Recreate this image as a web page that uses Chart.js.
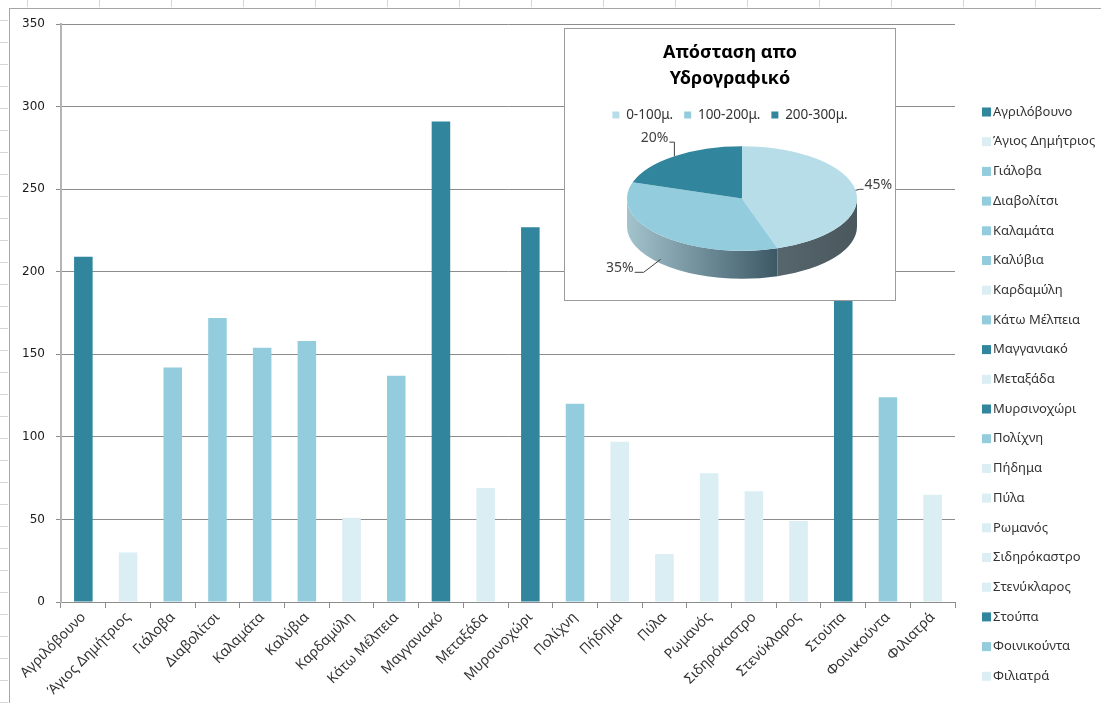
<!DOCTYPE html>
<html>
<head>
<meta charset="utf-8">
<script src="https://cdn.jsdelivr.net/npm/chart.js@4.4.1/dist/chart.umd.min.js"></script>
<style>
  html, body { margin: 0; padding: 0; background: #fff; }
  #wrap { position: relative; width: 1101px; height: 703px; overflow: hidden; background: #fff; }
  #topStrip { position: absolute; left: 0; top: 0; width: 1101px; height: 7px;
    background: repeating-linear-gradient(90deg, transparent 0 27px, #d6d6d6 27px 28px, transparent 28px 72px); }
  #leftStrip { position: absolute; left: 0; top: 0; width: 8px; height: 703px;
    background: repeating-linear-gradient(180deg, transparent 0 20px, #d6d6d6 20px 21px, transparent 21px 22px); }
  #frame { position: absolute; left: 9px; top: 8px; width: 1200px; height: 800px;
    border-left: 1px solid #a6a6a6; border-top: 1px solid #a6a6a6; }
  #bars { position: absolute; left: 0; top: 0; }
  #pieBox { position: absolute; left: 564px; top: 28px; width: 330px; height: 271px;
    background: #fff; border: 1px solid #9c9c9c; }
  #pie { display: block; }
</style>
</head>
<body>
<div id="wrap">
  <div id="topStrip"></div>
  <div id="leftStrip"></div>
  <div id="frame"></div>
  <canvas id="bars" width="1101" height="703"></canvas>
  <div id="pieBox"><canvas id="pie" width="330" height="271"></canvas></div>
</div>
<script>
// Villages and their distance from the hydrographic network (metres)
const categories = [
  'Αγριλόβουνο', 'Άγιος Δημήτριος', 'Γιάλοβα', 'Διαβολίτσι', 'Καλαμάτα',
  'Καλύβια', 'Καρδαμύλη', 'Κάτω Μέλπεια', 'Μαγγανιακό', 'Μεταξάδα',
  'Μυρσινοχώρι', 'Πολίχνη', 'Πήδημα', 'Πύλα', 'Ρωμανός',
  'Σιδηρόκαστρο', 'Στενύκλαρος', 'Στούπα', 'Φοινικούντα', 'Φιλιατρά'
];
const distances = [209, 30, 142, 172, 154, 158, 51, 137, 291, 69, 227, 120, 97, 29, 78, 67, 49, 250, 124, 65];
// distance band of each village: 0 = 0-100μ., 1 = 100-200μ., 2 = 200-300μ.
const distanceBand = [2, 0, 1, 1, 1, 1, 0, 1, 2, 0, 2, 1, 0, 0, 0, 0, 0, 2, 1, 0];
const yTicks = [0, 50, 100, 150, 200, 250, 300, 350];

// Share of villages per distance band (%)
const bandLabels = ['0-100μ.', '100-200μ.', '200-300μ.'];
const bandShares = [45, 35, 20];

const barColors = ['#DAEEF3', '#93CDDD', '#31859C'];
const pieColors = ['#B7DEE8', '#93CDDD', '#31859C'];

const FONT = 'Noto Sans';

// Vertical list of villages to the right of the plot
const villageLegend = {
  id: 'villageLegend',
  afterDraw(chart) {
    const ctx = chart.ctx;
    const ds = chart.data.datasets[0];
    const x0 = chart.chartArea.right + 27;
    const top = 112, step = 29.7;
    ctx.save();
    ctx.font = '13px "' + FONT + '"';
    ctx.textBaseline = 'middle';
    ctx.textAlign = 'left';
    chart.data.labels.forEach((label, i) => {
      const y = top + i * step;
      ctx.fillStyle = ds.backgroundColor[i];
      ctx.fillRect(x0, y - 4.5, 9, 9);
      ctx.fillStyle = '#333';
      ctx.fillText(label, x0 + 11, y);
    });
    ctx.restore();
  }
};

new Chart(document.getElementById('bars'), {
  type: 'bar',
  data: {
    labels: categories,
    datasets: [{
      data: distances,
      backgroundColor: distanceBand.map(b => barColors[b]),
      borderWidth: 0,
      barPercentage: 1,
      categoryPercentage: 0.415
    }]
  },
  options: {
    responsive: false,
    animation: false,
    devicePixelRatio: 1,
    layout: { padding: { left: 0, right: 146, top: 24, bottom: 0 } },
    plugins: { legend: { display: false }, tooltip: { enabled: false } },
    scales: {
      x: {
        grid: { drawOnChartArea: false, drawTicks: true, tickLength: 6, color: '#8c8c8c', offset: true },
        border: { color: '#8c8c8c', width: 1 },
        ticks: {
          autoSkip: false, minRotation: 45, maxRotation: 45, padding: 1,
          font: { family: FONT, size: 14 }, color: '#333'
        },
        afterFit(scale) { scale.height = 101; }
      },
      y: {
        min: 0, max: 350,
        afterBuildTicks(scale) { scale.ticks = yTicks.map(v => ({ value: v })); },
        ticks: { font: { family: 'DejaVu Sans', size: 12 }, color: '#1a1a1a', padding: 11 },
        grid: { color: '#8c8c8c', tickLength: 5, drawTicks: true },
        border: { color: '#b5b5b5', width: 2 },
        afterFit(scale) { scale.width = 61; }
      }
    }
  },
  plugins: [villageLegend]
});

// Tilted 3D look for the pie: side walls, flattened top face and leader-line labels
const PIE = { cx: 177, cy: 169.5, r: 115, tilt: 0.455, depth: 28 };
const labelLeaders = [
  { ex: 4, ey: -1, tail: 4 },
  { ex: -17, ey: 13, tail: -9 },
  { ex: 0, ey: -14, tail: -5 }
];
const sideShades = [
  ['#56666c', '#4a585e'],
  ['#a3c3cd', '#3c5865'],
  ['#2b6f82', '#25616f']
];

const tiltedPie = {
  id: 'tiltedPie',
  beforeDatasetsDraw(chart) {
    const ctx = chart.ctx;
    const meta = chart.getDatasetMeta(0);
    const { cx, cy, r, tilt, depth } = PIE;
    const ry = r * tilt;
    ctx.save();
    meta.data.forEach((arc, i) => {
      const lo = Math.max(arc.startAngle, 0);
      const hi = Math.min(arc.endAngle, Math.PI);
      if (hi <= lo) return;
      const xa = cx + r * Math.cos(hi), xb = cx + r * Math.cos(lo);
      const g = ctx.createLinearGradient(Math.min(xa, xb), 0, Math.max(xa, xb), 0);
      g.addColorStop(0, sideShades[i][0]);
      g.addColorStop(1, sideShades[i][1]);
      ctx.beginPath();
      ctx.ellipse(cx, cy, r, ry, 0, lo, hi, false);
      ctx.ellipse(cx, cy + depth, r, ry, 0, hi, lo, true);
      ctx.closePath();
      ctx.fillStyle = g;
      ctx.fill();
    });
    ctx.restore();
    const a0 = meta.data[0];
    const k = r / a0.outerRadius;
    ctx.save();
    ctx.translate(cx, cy);
    ctx.scale(k, k * tilt);
    ctx.translate(-a0.x, -a0.y);
  },
  afterDatasetsDraw(chart) {
    const ctx = chart.ctx;
    ctx.restore();
    const meta = chart.getDatasetMeta(0);
    const { cx, cy, r, tilt, depth } = PIE;
    const ry = r * tilt;
    ctx.save();
    ctx.strokeStyle = '#404040';
    ctx.lineWidth = 1;
    ctx.fillStyle = '#404040';
    ctx.font = '14px "' + FONT + '"';
    ctx.textBaseline = 'middle';
    meta.data.forEach((arc, i) => {
      const mid = (arc.startAngle + arc.endAngle) / 2;
      const c = Math.cos(mid), s = Math.sin(mid);
      const px = cx + r * c;
      const py = cy + ry * s + (s > 0 ? depth * 0.85 : 0);
      const L = labelLeaders[i];
      const ex = px + L.ex, ey = py + L.ey;
      const tx = ex + L.tail;
      ctx.beginPath();
      ctx.moveTo(px, py);
      ctx.lineTo(ex, ey);
      ctx.lineTo(tx, ey);
      ctx.stroke();
      ctx.textAlign = L.tail >= 0 ? 'left' : 'right';
      ctx.fillText(bandShares[i] + '%', tx + (L.tail >= 0 ? 1 : -1), ey - 4);
    });
    ctx.restore();
  }
};

new Chart(document.getElementById('pie'), {
  type: 'pie',
  data: {
    labels: bandLabels,
    datasets: [{ data: bandShares, backgroundColor: pieColors, borderWidth: 0, clip: false }]
  },
  options: {
    responsive: false,
    animation: false,
    devicePixelRatio: 1,
    plugins: {
      title: {
        display: true,
        text: ['Απόσταση απο', 'Υδρογραφικό'],
        font: { family: FONT, size: 18, weight: 'bold', lineHeight: 1.45 },
        color: '#000',
        padding: { top: 11, bottom: 5 }
      },
      legend: {
        position: 'top',
        labels: { boxWidth: 7, boxHeight: 7, padding: 11, color: '#333', font: { family: FONT, size: 13.5 } }
      },
      tooltip: { enabled: false }
    }
  },
  plugins: [tiltedPie]
});
</script>
</body>
</html>
